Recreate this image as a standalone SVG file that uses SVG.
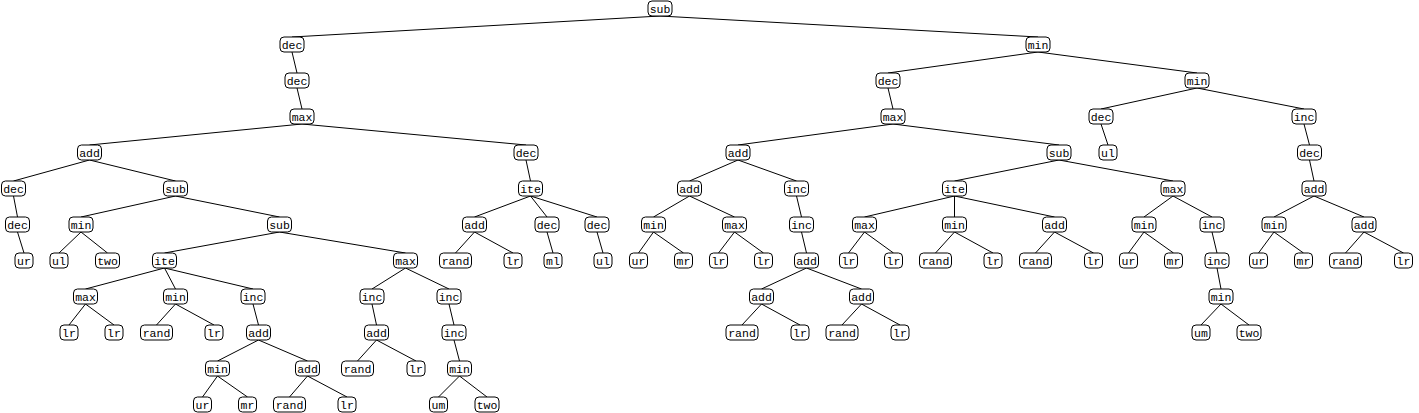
<svg xmlns="http://www.w3.org/2000/svg" width="1419" height="413" viewBox="0 0 1419 413">
<style>
.nd rect{fill:#fff;stroke:#000;stroke-width:1}
.nd text{font-family:"Liberation Mono","DejaVu Sans Mono",monospace;font-size:11.5px;text-anchor:middle;fill:#000}
#edges line{stroke:#000;stroke-width:1}
</style>
<rect width="1419" height="413" fill="#fff"/>
<g id="edges">
<line x1="660" y1="16" x2="292" y2="37"/><line x1="660" y1="16" x2="1038" y2="37"/>
<line x1="292" y1="52" x2="297" y2="73"/><line x1="1038" y1="52" x2="888" y2="73"/><line x1="1038" y1="52" x2="1197" y2="73"/>
<line x1="297" y1="88" x2="302" y2="109"/><line x1="888" y1="88" x2="893" y2="109"/><line x1="1197" y1="88" x2="1101" y2="109"/><line x1="1197" y1="88" x2="1304" y2="109"/>
<line x1="302" y1="124" x2="89.5" y2="145"/><line x1="302" y1="124" x2="526" y2="145"/><line x1="893" y1="124" x2="738" y2="145"/><line x1="893" y1="124" x2="1059" y2="145"/><line x1="1101" y1="124" x2="1108" y2="145"/><line x1="1304" y1="124" x2="1309.5" y2="145"/>
<line x1="89.5" y1="160" x2="13.5" y2="181"/><line x1="89.5" y1="160" x2="175.5" y2="181"/><line x1="526" y1="160" x2="530.5" y2="181"/><line x1="738" y1="160" x2="689.5" y2="181"/><line x1="738" y1="160" x2="796.5" y2="181"/><line x1="1059" y1="160" x2="954.5" y2="181"/><line x1="1059" y1="160" x2="1173" y2="181"/><line x1="1309.5" y1="160" x2="1314" y2="181"/>
<line x1="13.5" y1="196" x2="17.5" y2="217"/><line x1="175.5" y1="196" x2="81" y2="217"/><line x1="175.5" y1="196" x2="279.5" y2="217"/><line x1="530.5" y1="196" x2="474.5" y2="217"/><line x1="530.5" y1="196" x2="547" y2="217"/><line x1="530.5" y1="196" x2="597" y2="217"/><line x1="689.5" y1="196" x2="653.5" y2="217"/><line x1="689.5" y1="196" x2="734.5" y2="217"/><line x1="796.5" y1="196" x2="801.5" y2="217"/><line x1="954.5" y1="196" x2="864.5" y2="217"/><line x1="954.5" y1="196" x2="954.5" y2="217"/><line x1="954.5" y1="196" x2="1054.5" y2="217"/><line x1="1173" y1="196" x2="1144" y2="217"/><line x1="1173" y1="196" x2="1212" y2="217"/><line x1="1314" y1="196" x2="1274" y2="217"/><line x1="1314" y1="196" x2="1364" y2="217"/>
<line x1="17.5" y1="232" x2="24" y2="253"/><line x1="81" y1="232" x2="59" y2="253"/><line x1="81" y1="232" x2="107.5" y2="253"/><line x1="279.5" y1="232" x2="164.5" y2="253"/><line x1="279.5" y1="232" x2="405.5" y2="253"/><line x1="474.5" y1="232" x2="455.5" y2="253"/><line x1="474.5" y1="232" x2="513" y2="253"/><line x1="547" y1="232" x2="553" y2="253"/><line x1="597" y1="232" x2="603" y2="253"/><line x1="653.5" y1="232" x2="638.5" y2="253"/><line x1="653.5" y1="232" x2="683.5" y2="253"/><line x1="734.5" y1="232" x2="718.5" y2="253"/><line x1="734.5" y1="232" x2="763.5" y2="253"/><line x1="801.5" y1="232" x2="806.5" y2="253"/><line x1="864.5" y1="232" x2="848.5" y2="253"/><line x1="864.5" y1="232" x2="893.5" y2="253"/><line x1="954.5" y1="232" x2="935.5" y2="253"/><line x1="954.5" y1="232" x2="993" y2="253"/><line x1="1054.5" y1="232" x2="1035.5" y2="253"/><line x1="1054.5" y1="232" x2="1093.5" y2="253"/><line x1="1144" y1="232" x2="1128.5" y2="253"/><line x1="1144" y1="232" x2="1173.5" y2="253"/><line x1="1212" y1="232" x2="1217" y2="253"/><line x1="1274" y1="232" x2="1258.5" y2="253"/><line x1="1274" y1="232" x2="1303.5" y2="253"/><line x1="1364" y1="232" x2="1345.5" y2="253"/><line x1="1364" y1="232" x2="1403.5" y2="253"/>
<line x1="164.5" y1="268" x2="85.5" y2="289"/><line x1="164.5" y1="268" x2="175.5" y2="289"/><line x1="164.5" y1="268" x2="253" y2="289"/><line x1="405.5" y1="268" x2="372" y2="289"/><line x1="405.5" y1="268" x2="449" y2="289"/><line x1="806.5" y1="268" x2="761.5" y2="289"/><line x1="806.5" y1="268" x2="861.5" y2="289"/><line x1="1217" y1="268" x2="1221" y2="289"/>
<line x1="85.5" y1="304" x2="69" y2="325"/><line x1="85.5" y1="304" x2="114" y2="325"/><line x1="175.5" y1="304" x2="156.5" y2="325"/><line x1="175.5" y1="304" x2="214" y2="325"/><line x1="253" y1="304" x2="258.5" y2="325"/><line x1="372" y1="304" x2="376.5" y2="325"/><line x1="449" y1="304" x2="454" y2="325"/><line x1="761.5" y1="304" x2="742" y2="325"/><line x1="761.5" y1="304" x2="800" y2="325"/><line x1="861.5" y1="304" x2="842" y2="325"/><line x1="861.5" y1="304" x2="900" y2="325"/><line x1="1221" y1="304" x2="1201" y2="325"/><line x1="1221" y1="304" x2="1249" y2="325"/>
<line x1="258.5" y1="340" x2="217.5" y2="361"/><line x1="258.5" y1="340" x2="307.5" y2="361"/><line x1="376.5" y1="340" x2="357.5" y2="361"/><line x1="376.5" y1="340" x2="416" y2="361"/><line x1="454" y1="340" x2="459.5" y2="361"/>
<line x1="217.5" y1="376" x2="202.5" y2="397"/><line x1="217.5" y1="376" x2="247.5" y2="397"/><line x1="307.5" y1="376" x2="289.5" y2="397"/><line x1="307.5" y1="376" x2="347" y2="397"/><line x1="459.5" y1="376" x2="438.5" y2="397"/><line x1="459.5" y1="376" x2="487" y2="397"/>
</g>
<g class="nd">
<g id="n0"><rect x="648" y="1" width="24" height="15" rx="4"/><text x="660" y="12.5">sub</text></g>
<g id="n1"><rect x="280" y="37" width="24" height="15" rx="4"/><text x="292" y="48.5">dec</text></g>
<g id="n2"><rect x="1026" y="37" width="24" height="15" rx="4"/><text x="1038" y="48.5">min</text></g>
<g id="n3"><rect x="285" y="73" width="24" height="15" rx="4"/><text x="297" y="84.5">dec</text></g>
<g id="n4"><rect x="876" y="73" width="24" height="15" rx="4"/><text x="888" y="84.5">dec</text></g>
<g id="n5"><rect x="1185" y="73" width="24" height="15" rx="4"/><text x="1197" y="84.5">min</text></g>
<g id="n6"><rect x="290" y="109" width="24" height="15" rx="4"/><text x="302" y="120.5">max</text></g>
<g id="n7"><rect x="881" y="109" width="24" height="15" rx="4"/><text x="893" y="120.5">max</text></g>
<g id="n8"><rect x="1089" y="109" width="24" height="15" rx="4"/><text x="1101" y="120.5">dec</text></g>
<g id="n9"><rect x="1292" y="109" width="24" height="15" rx="4"/><text x="1304" y="120.5">inc</text></g>
<g id="n10"><rect x="77.5" y="145" width="24" height="15" rx="4"/><text x="89.5" y="156.5">add</text></g>
<g id="n11"><rect x="514" y="145" width="24" height="15" rx="4"/><text x="526" y="156.5">dec</text></g>
<g id="n12"><rect x="726" y="145" width="24" height="15" rx="4"/><text x="738" y="156.5">add</text></g>
<g id="n13"><rect x="1047" y="145" width="24" height="15" rx="4"/><text x="1059" y="156.5">sub</text></g>
<g id="n14"><rect x="1099" y="145" width="18" height="15" rx="4"/><text x="1108" y="156.5">ul</text></g>
<g id="n15"><rect x="1297.5" y="145" width="24" height="15" rx="4"/><text x="1309.5" y="156.5">dec</text></g>
<g id="n16"><rect x="1.5" y="181" width="24" height="15" rx="4"/><text x="13.5" y="192.5">dec</text></g>
<g id="n17"><rect x="163.5" y="181" width="24" height="15" rx="4"/><text x="175.5" y="192.5">sub</text></g>
<g id="n18"><rect x="518.5" y="181" width="24" height="15" rx="4"/><text x="530.5" y="192.5">ite</text></g>
<g id="n19"><rect x="677.5" y="181" width="24" height="15" rx="4"/><text x="689.5" y="192.5">add</text></g>
<g id="n20"><rect x="784.5" y="181" width="24" height="15" rx="4"/><text x="796.5" y="192.5">inc</text></g>
<g id="n21"><rect x="942.5" y="181" width="24" height="15" rx="4"/><text x="954.5" y="192.5">ite</text></g>
<g id="n22"><rect x="1161" y="181" width="24" height="15" rx="4"/><text x="1173" y="192.5">max</text></g>
<g id="n23"><rect x="1302" y="181" width="24" height="15" rx="4"/><text x="1314" y="192.5">add</text></g>
<g id="n24"><rect x="5.5" y="217" width="24" height="15" rx="4"/><text x="17.5" y="228.5">dec</text></g>
<g id="n25"><rect x="69" y="217" width="24" height="15" rx="4"/><text x="81" y="228.5">min</text></g>
<g id="n26"><rect x="267.5" y="217" width="24" height="15" rx="4"/><text x="279.5" y="228.5">sub</text></g>
<g id="n27"><rect x="462.5" y="217" width="24" height="15" rx="4"/><text x="474.5" y="228.5">add</text></g>
<g id="n28"><rect x="535" y="217" width="24" height="15" rx="4"/><text x="547" y="228.5">dec</text></g>
<g id="n29"><rect x="585" y="217" width="24" height="15" rx="4"/><text x="597" y="228.5">dec</text></g>
<g id="n30"><rect x="641.5" y="217" width="24" height="15" rx="4"/><text x="653.5" y="228.5">min</text></g>
<g id="n31"><rect x="722.5" y="217" width="24" height="15" rx="4"/><text x="734.5" y="228.5">max</text></g>
<g id="n32"><rect x="789.5" y="217" width="24" height="15" rx="4"/><text x="801.5" y="228.5">inc</text></g>
<g id="n33"><rect x="852.5" y="217" width="24" height="15" rx="4"/><text x="864.5" y="228.5">max</text></g>
<g id="n34"><rect x="942.5" y="217" width="24" height="15" rx="4"/><text x="954.5" y="228.5">min</text></g>
<g id="n35"><rect x="1042.5" y="217" width="24" height="15" rx="4"/><text x="1054.5" y="228.5">add</text></g>
<g id="n36"><rect x="1132" y="217" width="24" height="15" rx="4"/><text x="1144" y="228.5">min</text></g>
<g id="n37"><rect x="1200" y="217" width="24" height="15" rx="4"/><text x="1212" y="228.5">inc</text></g>
<g id="n38"><rect x="1262" y="217" width="24" height="15" rx="4"/><text x="1274" y="228.5">min</text></g>
<g id="n39"><rect x="1352" y="217" width="24" height="15" rx="4"/><text x="1364" y="228.5">add</text></g>
<g id="n40"><rect x="15" y="253" width="18" height="15" rx="4"/><text x="24" y="264.5">ur</text></g>
<g id="n41"><rect x="50" y="253" width="18" height="15" rx="4"/><text x="59" y="264.5">ul</text></g>
<g id="n42"><rect x="95.5" y="253" width="24" height="15" rx="4"/><text x="107.5" y="264.5">two</text></g>
<g id="n43"><rect x="152.5" y="253" width="24" height="15" rx="4"/><text x="164.5" y="264.5">ite</text></g>
<g id="n44"><rect x="393.5" y="253" width="24" height="15" rx="4"/><text x="405.5" y="264.5">max</text></g>
<g id="n45"><rect x="439.5" y="253" width="32" height="15" rx="4"/><text x="455.5" y="264.5">rand</text></g>
<g id="n46"><rect x="504" y="253" width="18" height="15" rx="4"/><text x="513" y="264.5">lr</text></g>
<g id="n47"><rect x="544" y="253" width="18" height="15" rx="4"/><text x="553" y="264.5">ml</text></g>
<g id="n48"><rect x="594" y="253" width="18" height="15" rx="4"/><text x="603" y="264.5">ul</text></g>
<g id="n49"><rect x="629.5" y="253" width="18" height="15" rx="4"/><text x="638.5" y="264.5">ur</text></g>
<g id="n50"><rect x="674.5" y="253" width="18" height="15" rx="4"/><text x="683.5" y="264.5">mr</text></g>
<g id="n51"><rect x="709.5" y="253" width="18" height="15" rx="4"/><text x="718.5" y="264.5">lr</text></g>
<g id="n52"><rect x="754.5" y="253" width="18" height="15" rx="4"/><text x="763.5" y="264.5">lr</text></g>
<g id="n53"><rect x="794.5" y="253" width="24" height="15" rx="4"/><text x="806.5" y="264.5">add</text></g>
<g id="n54"><rect x="839.5" y="253" width="18" height="15" rx="4"/><text x="848.5" y="264.5">lr</text></g>
<g id="n55"><rect x="884.5" y="253" width="18" height="15" rx="4"/><text x="893.5" y="264.5">lr</text></g>
<g id="n56"><rect x="919.5" y="253" width="32" height="15" rx="4"/><text x="935.5" y="264.5">rand</text></g>
<g id="n57"><rect x="984" y="253" width="18" height="15" rx="4"/><text x="993" y="264.5">lr</text></g>
<g id="n58"><rect x="1019.5" y="253" width="32" height="15" rx="4"/><text x="1035.5" y="264.5">rand</text></g>
<g id="n59"><rect x="1084.5" y="253" width="18" height="15" rx="4"/><text x="1093.5" y="264.5">lr</text></g>
<g id="n60"><rect x="1119.5" y="253" width="18" height="15" rx="4"/><text x="1128.5" y="264.5">ur</text></g>
<g id="n61"><rect x="1164.5" y="253" width="18" height="15" rx="4"/><text x="1173.5" y="264.5">mr</text></g>
<g id="n62"><rect x="1205" y="253" width="24" height="15" rx="4"/><text x="1217" y="264.5">inc</text></g>
<g id="n63"><rect x="1249.5" y="253" width="18" height="15" rx="4"/><text x="1258.5" y="264.5">ur</text></g>
<g id="n64"><rect x="1294.5" y="253" width="18" height="15" rx="4"/><text x="1303.5" y="264.5">mr</text></g>
<g id="n65"><rect x="1329.5" y="253" width="32" height="15" rx="4"/><text x="1345.5" y="264.5">rand</text></g>
<g id="n66"><rect x="1394.5" y="253" width="18" height="15" rx="4"/><text x="1403.5" y="264.5">lr</text></g>
<g id="n67"><rect x="73.5" y="289" width="24" height="15" rx="4"/><text x="85.5" y="300.5">max</text></g>
<g id="n68"><rect x="163.5" y="289" width="24" height="15" rx="4"/><text x="175.5" y="300.5">min</text></g>
<g id="n69"><rect x="241" y="289" width="24" height="15" rx="4"/><text x="253" y="300.5">inc</text></g>
<g id="n70"><rect x="360" y="289" width="24" height="15" rx="4"/><text x="372" y="300.5">inc</text></g>
<g id="n71"><rect x="437" y="289" width="24" height="15" rx="4"/><text x="449" y="300.5">inc</text></g>
<g id="n72"><rect x="749.5" y="289" width="24" height="15" rx="4"/><text x="761.5" y="300.5">add</text></g>
<g id="n73"><rect x="849.5" y="289" width="24" height="15" rx="4"/><text x="861.5" y="300.5">add</text></g>
<g id="n74"><rect x="1209" y="289" width="24" height="15" rx="4"/><text x="1221" y="300.5">min</text></g>
<g id="n75"><rect x="60" y="325" width="18" height="15" rx="4"/><text x="69" y="336.5">lr</text></g>
<g id="n76"><rect x="105" y="325" width="18" height="15" rx="4"/><text x="114" y="336.5">lr</text></g>
<g id="n77"><rect x="140.5" y="325" width="32" height="15" rx="4"/><text x="156.5" y="336.5">rand</text></g>
<g id="n78"><rect x="205" y="325" width="18" height="15" rx="4"/><text x="214" y="336.5">lr</text></g>
<g id="n79"><rect x="246.5" y="325" width="24" height="15" rx="4"/><text x="258.5" y="336.5">add</text></g>
<g id="n80"><rect x="364.5" y="325" width="24" height="15" rx="4"/><text x="376.5" y="336.5">add</text></g>
<g id="n81"><rect x="442" y="325" width="24" height="15" rx="4"/><text x="454" y="336.5">inc</text></g>
<g id="n82"><rect x="726" y="325" width="32" height="15" rx="4"/><text x="742" y="336.5">rand</text></g>
<g id="n83"><rect x="791" y="325" width="18" height="15" rx="4"/><text x="800" y="336.5">lr</text></g>
<g id="n84"><rect x="826" y="325" width="32" height="15" rx="4"/><text x="842" y="336.5">rand</text></g>
<g id="n85"><rect x="891" y="325" width="18" height="15" rx="4"/><text x="900" y="336.5">lr</text></g>
<g id="n86"><rect x="1192" y="325" width="18" height="15" rx="4"/><text x="1201" y="336.5">um</text></g>
<g id="n87"><rect x="1237" y="325" width="24" height="15" rx="4"/><text x="1249" y="336.5">two</text></g>
<g id="n88"><rect x="205.5" y="361" width="24" height="15" rx="4"/><text x="217.5" y="372.5">min</text></g>
<g id="n89"><rect x="295.5" y="361" width="24" height="15" rx="4"/><text x="307.5" y="372.5">add</text></g>
<g id="n90"><rect x="341.5" y="361" width="32" height="15" rx="4"/><text x="357.5" y="372.5">rand</text></g>
<g id="n91"><rect x="407" y="361" width="18" height="15" rx="4"/><text x="416" y="372.5">lr</text></g>
<g id="n92"><rect x="447.5" y="361" width="24" height="15" rx="4"/><text x="459.5" y="372.5">min</text></g>
<g id="n93"><rect x="193.5" y="397" width="18" height="15" rx="4"/><text x="202.5" y="408.5">ur</text></g>
<g id="n94"><rect x="238.5" y="397" width="18" height="15" rx="4"/><text x="247.5" y="408.5">mr</text></g>
<g id="n95"><rect x="273.5" y="397" width="32" height="15" rx="4"/><text x="289.5" y="408.5">rand</text></g>
<g id="n96"><rect x="338" y="397" width="18" height="15" rx="4"/><text x="347" y="408.5">lr</text></g>
<g id="n97"><rect x="429.5" y="397" width="18" height="15" rx="4"/><text x="438.5" y="408.5">um</text></g>
<g id="n98"><rect x="475" y="397" width="24" height="15" rx="4"/><text x="487" y="408.5">two</text></g>
</g>
</svg>
